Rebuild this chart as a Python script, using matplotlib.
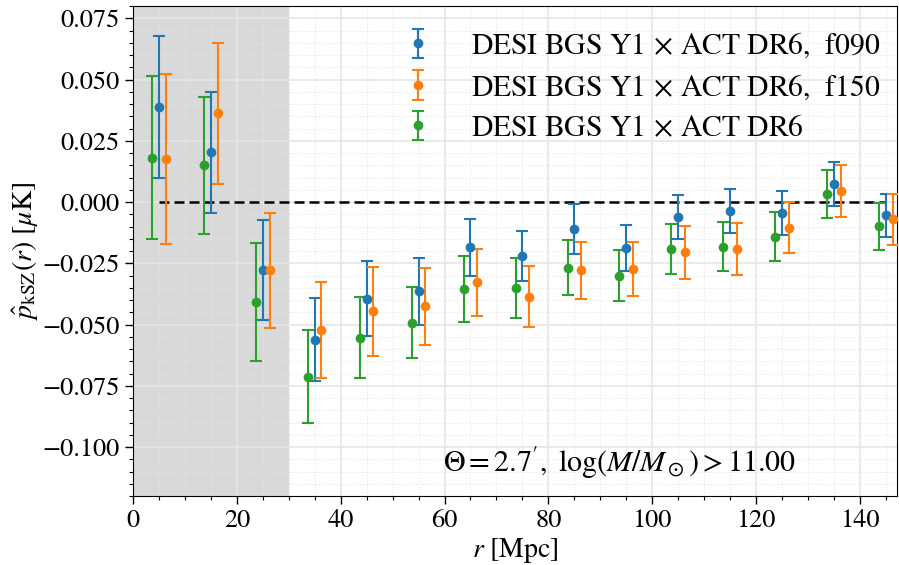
import numpy as np
import matplotlib
matplotlib.use("Agg")
import matplotlib.pyplot as plt
from matplotlib.ticker import MultipleLocator

plt.rcParams['font.family'] = 'STIXGeneral'
plt.rcParams['mathtext.fontset'] = 'stix'

# separation bins [Mpc]
r = np.array([5, 15, 25, 35, 45, 55, 65, 75, 85, 95, 105, 115, 125, 135, 145])

# f090
p_f090 = np.array([0.0390, 0.0203, -0.0276, -0.0561, -0.0394, -0.0364, -0.0184, -0.0220,
                   -0.0110, -0.0188, -0.0060, -0.0037, -0.0046, 0.0073, -0.0054])
err_f090 = np.array([0.0290, 0.0247, 0.0205, 0.0170, 0.0152, 0.0137, 0.0116, 0.0103,
                     0.0101, 0.0095, 0.0090, 0.0089, 0.0090, 0.0090, 0.0088])

# f150
p_f150 = np.array([0.0176, 0.0363, -0.0279, -0.0523, -0.0446, -0.0425, -0.0328, -0.0386,
                   -0.0279, -0.0274, -0.0205, -0.0191, -0.0104, 0.0045, -0.0070])
err_f150 = np.array([0.0348, 0.0288, 0.0235, 0.0196, 0.0183, 0.0158, 0.0138, 0.0125,
                     0.0117, 0.0111, 0.0107, 0.0106, 0.0105, 0.0106, 0.0104])

# combined
p_comb = np.array([0.0182, 0.0150, -0.0407, -0.0713, -0.0553, -0.0492, -0.0355, -0.0351,
                   -0.0268, -0.0301, -0.0192, -0.0182, -0.0141, 0.0034, -0.0098])
err_comb = np.array([0.0333, 0.0278, 0.0240, 0.0190, 0.0164, 0.0144, 0.0134, 0.0124,
                     0.0113, 0.0104, 0.0103, 0.0100, 0.0100, 0.0097, 0.0096])

labels = [r'DESI BGS Y1$\,\times\,$ACT DR6,  f090',
          r'DESI BGS Y1$\,\times\,$ACT DR6,  f150',
          r'DESI BGS Y1$\,\times\,$ACT DR6']

fig = plt.figure(figsize=(8.99, 5.65), dpi=100)
ax = fig.add_axes([0.148, 0.122, 0.850, 0.867])

ax.axvspan(0, 30, color='0.85', zorder=0, lw=0)
ax.plot(r, np.zeros_like(r), 'k--', lw=1.8, dashes=(4, 2), zorder=1)

dr = 1.3
kw = dict(fmt='o', ms=6, capsize=4, elinewidth=1.5, capthick=1.5)
ax.errorbar(r, p_f090, yerr=err_f090, color='C0', label=labels[0], zorder=3, **kw)
ax.errorbar(r + dr, p_f150, yerr=err_f150, color='C1', label=labels[1], zorder=3, **kw)
ax.errorbar(r - dr, p_comb, yerr=err_comb, color='C2', label=labels[2], zorder=3, **kw)

ax.set_xlim(0, 147.2)
ax.set_ylim(-0.12, 0.08)
ax.xaxis.set_major_locator(MultipleLocator(20))
ax.xaxis.set_minor_locator(MultipleLocator(5))
ax.yaxis.set_major_locator(MultipleLocator(0.025))
ax.yaxis.set_minor_locator(MultipleLocator(0.005))
ax.tick_params(which='major', direction='out', length=6, width=1, labelsize=19)
ax.tick_params(which='minor', direction='out', length=3, width=0.8)
ax.grid(True, which='major', color='0.9', lw=1.2, zorder=0)
ax.grid(True, which='minor', color='0.9', lw=0.8, ls=':', zorder=0)
ax.set_axisbelow(True)

ax.set_xlabel(r'$r$ [Mpc]', fontsize=20, labelpad=2)
ax.set_ylabel(r'$\hat{p}_{\rm kSZ}(r)$ [$\mu$K]', fontsize=20, labelpad=2)

ax.text(0.637, 0.067, r"$\Theta = 2.7^{\prime},\ \log(M/M_\odot) > 11.00$",
        transform=ax.transAxes, fontsize=21.6, ha='center', va='center')

ax.legend(loc='upper right', bbox_to_anchor=(0.994, 0.973), borderaxespad=0,
          frameon=False, fontsize=21.3, handletextpad=0.8, labelspacing=0.42)

fig.savefig('out.png', dpi=100)
